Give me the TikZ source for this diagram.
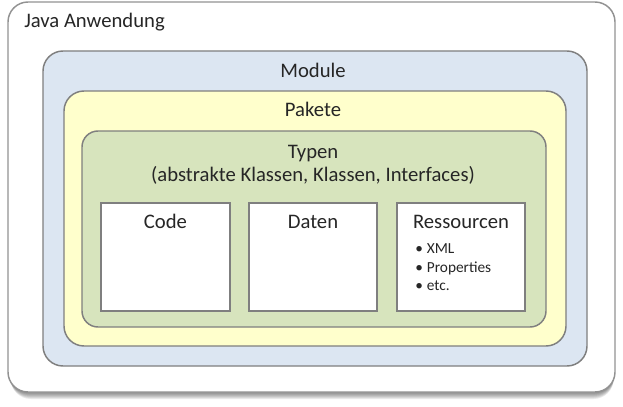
\documentclass[tikz,border=0pt]{standalone}
\usepackage{fontspec}
\setmainfont{Carlito}
\usetikzlibrary{positioning}

\definecolor{rahmen}{HTML}{7F7F7F}
\definecolor{modulblau}{HTML}{DCE6F2}
\definecolor{paketgelb}{HTML}{FFFFCC}
\definecolor{typgruen}{HTML}{D7E4BD}
\definecolor{schrift}{HTML}{262626}

\tikzset{
  ebene/.style={draw=rahmen, line width=1.1pt, rounded corners=15pt},
  kasten/.style={draw=rahmen, line width=1.9pt, fill=white},
  titel/.style={anchor=base, text=schrift, inner sep=0pt, font=\fontsize{15.5}{18}\selectfont},
  punkt/.style={anchor=base west, text=schrift, inner sep=0pt, font=\fontsize{11.5}{14}\selectfont}
}

\begin{document}
\begin{tikzpicture}[x=0.75pt,y=-0.75pt]
			\useasboundingbox (0,0) rectangle (623,406);
			% Schatten
			\foreach \s in {1,...,7}
			\fill[black, opacity=0.08, rounded corners=15pt] (8+\s*0.4,2+\s) rectangle (615-\s*0.2,392+\s);
			\draw[ebene, fill=white, draw=rahmen!85] (8,2) rectangle (615,392);
			\draw[ebene, fill=modulblau] (43,51) rectangle (587,366);
			\draw[ebene, fill=paketgelb] (64,91) rectangle (566,346);
			\draw[ebene, rounded corners=12pt, fill=typgruen] (82,131) rectangle (546,327);
			\draw[kasten] (101,203) rectangle (230,311);
			\draw[kasten] (249,203) rectangle (377,311);
			\draw[kasten] (397,203) rectangle (525,311);

			\node[titel, anchor=base west] (java) at (24,28) {Java Anwendung};
			\node[titel] (modul) at (313,78) {Module};
			\node[titel] (pakete) at (313,117) {Pakete};
			\node[titel] (typen) at (313,158) {Typen};
			\node[titel] (typenart) at (313,181) {(abstrakte Klassen, Klassen, Interfaces)};
			\node[titel] (code) at (165.5,228) {Code};
			\node[titel] (daten) at (313,228) {Daten};
			\node[titel] (ressourcen) at (461,228) {Ressourcen};
			\foreach \t [count=\n] in {XML,Properties,etc.}
			\node[punkt] (res\n) at (415,235+\n*18.5) {•\hspace{3pt}\t};
\end{tikzpicture}
\end{document}
